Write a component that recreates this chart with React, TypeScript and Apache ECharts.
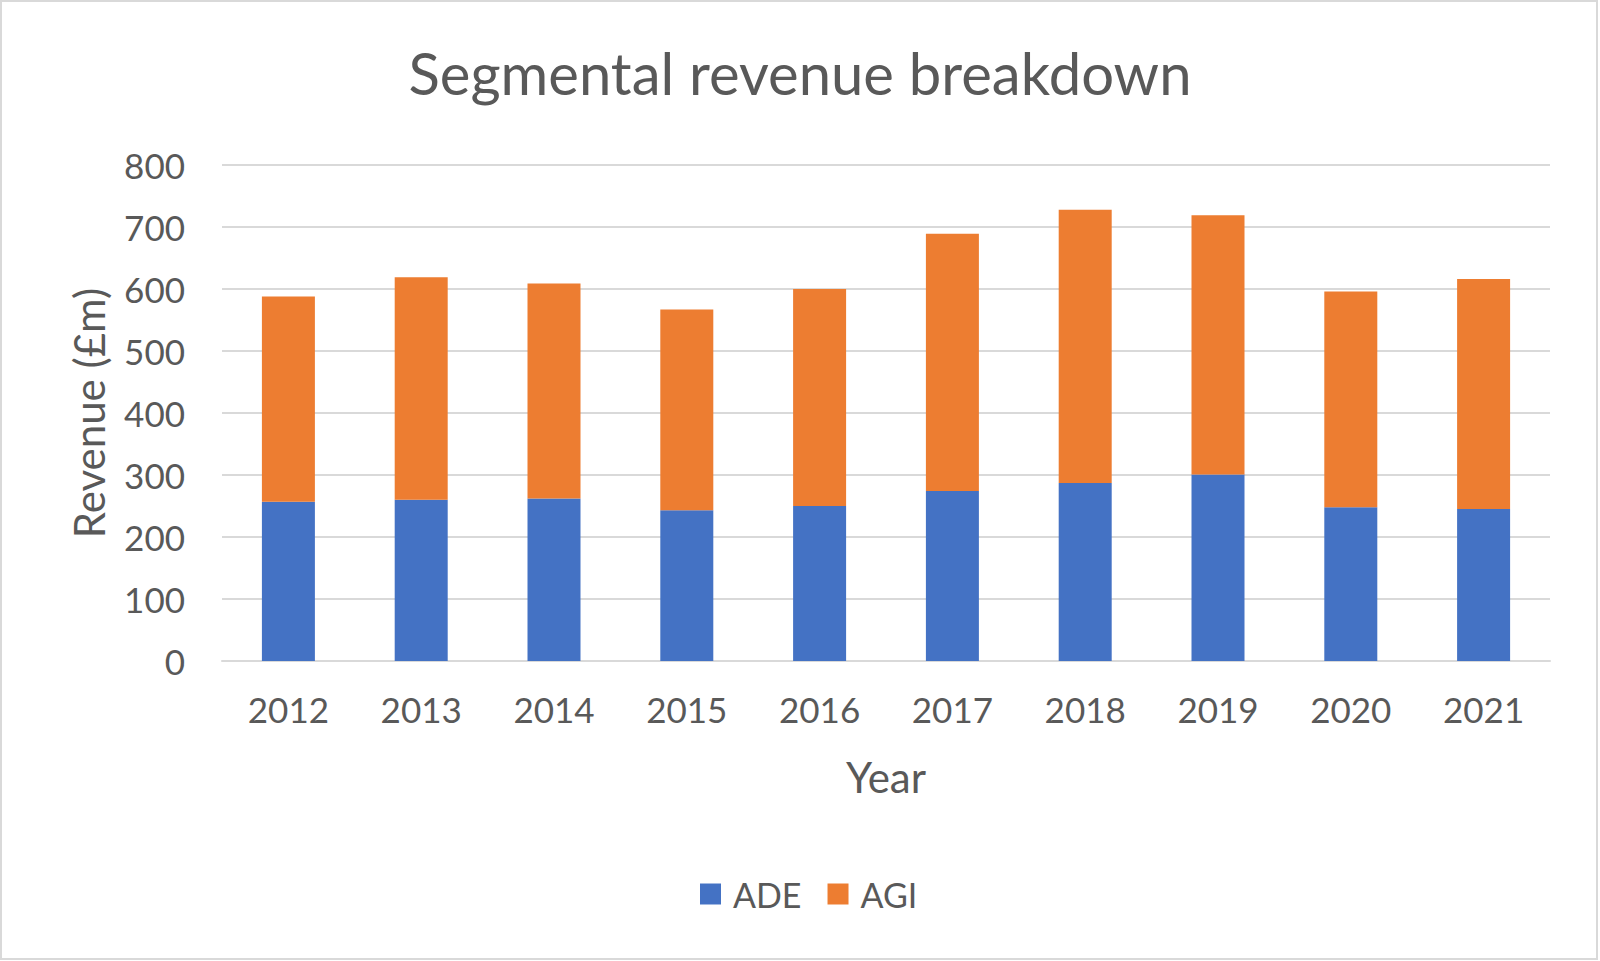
import React, { useEffect, useRef } from "react";
import * as echarts from "echarts";

const years = ["2012", "2013", "2014", "2015", "2016", "2017", "2018", "2019", "2020", "2021"];
const ade = [257, 260, 262, 243, 250, 274, 287, 301, 248, 245];
const agi = [331, 359, 347, 324, 350, 415, 441, 418, 348, 371];

const FONT = "Lato";
const TEXT = "#595959";

export default function App() {
  const ref = useRef<HTMLDivElement>(null);
  useEffect(() => {
    if (!ref.current) return;
    const chart = echarts.init(ref.current, undefined, { renderer: "svg" });
    chart.setOption({
      animation: false,
      backgroundColor: "#ffffff",
      textStyle: { fontFamily: FONT, color: TEXT },
      graphic: [
        {
          type: "rect",
          shape: { x: 1, y: 1, width: 1596, height: 958 },
          style: { fill: "none", stroke: "#D9D9D9", lineWidth: 2 },
          silent: true,
        },
      ],
      title: {
        text: "Segmental revenue breakdown",
        left: "center",
        top: 38,
        textStyle: { fontFamily: FONT, fontSize: 58, fontWeight: "normal", color: TEXT },
      },
      legend: {
        data: ["ADE", "AGI"],
        bottom: 45,
        left: 695,
        icon: "rect",
        itemWidth: 21,
        itemHeight: 21,
        itemGap: 26,
        textStyle: { fontFamily: FONT, fontSize: 34, color: TEXT, padding: [0, 0, 0, 7] },
      },
      grid: { left: 222, right: 50, top: 165, bottom: 300, containLabel: false },
      xAxis: {
        type: "category",
        data: years,
        name: "Year",
        nameLocation: "middle",
        nameGap: 95,
        nameTextStyle: { fontFamily: FONT, fontSize: 42, color: TEXT },
        axisLine: { lineStyle: { color: "#D9D9D9", width: 2 } },
        axisTick: { show: false },
        axisLabel: { fontFamily: FONT, fontSize: 35, color: TEXT, margin: 30 },
      },
      yAxis: {
        type: "value",
        min: 0,
        max: 800,
        interval: 100,
        name: "Revenue (£m)",
        nameLocation: "middle",
        nameGap: 112,
        nameTextStyle: { fontFamily: FONT, fontSize: 42, color: TEXT },
        axisLine: { show: false },
        axisTick: { show: false },
        splitLine: { lineStyle: { color: "#D9D9D9", width: 2 } },
        axisLabel: { fontFamily: FONT, fontSize: 35, color: TEXT, margin: 37 },
      },
      series: [
        {
          name: "ADE",
          type: "bar",
          stack: "total",
          data: ade,
          barWidth: 53,
          itemStyle: { color: "#4472C4" },
        },
        {
          name: "AGI",
          type: "bar",
          stack: "total",
          data: agi,
          barWidth: 53,
          itemStyle: { color: "#ED7D31" },
        },
      ],
    });
    return () => chart.dispose();
  }, []);
  return (
    <div
      ref={ref}
      style={{ position: "fixed", left: 0, top: 0, width: 1600, height: 961, background: "#fff" }}
    />
  );
}
